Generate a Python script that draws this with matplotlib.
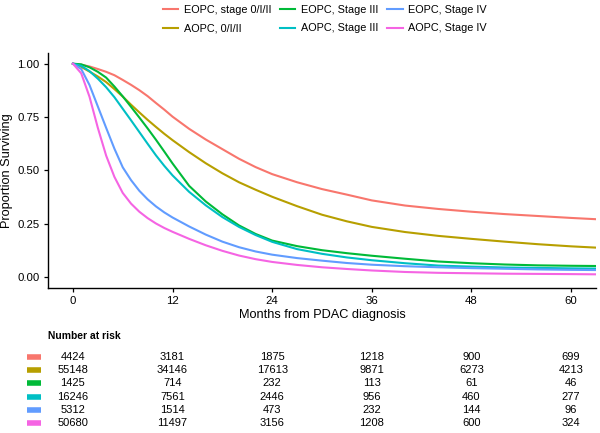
"""
Kaplan-Meier style survival curves for early-onset and average-onset
pancreatic cancer by stage, with a number-at-risk table underneath.
"""

import matplotlib
matplotlib.use("Agg")
import matplotlib.pyplot as plt

plt.rcParams["font.family"] = ["Liberation Sans", "DejaVu Sans"]

months = [0, 1, 2, 3, 4, 5, 6, 7, 8, 9, 10, 11, 12, 14, 16, 18, 20, 22, 24,
          27, 30, 33, 36, 40, 44, 48, 52, 56, 60, 63]

eopc_early = [1.0, 0.995, 0.987, 0.975, 0.962, 0.946, 0.924, 0.901, 0.876,
              0.848, 0.816, 0.785, 0.752, 0.695, 0.645, 0.600, 0.555, 0.516,
              0.483, 0.445, 0.413, 0.387, 0.360, 0.336, 0.320, 0.307, 0.296,
              0.287, 0.278, 0.272]
aopc_early = [1.0, 0.985, 0.963, 0.940, 0.914, 0.881, 0.846, 0.808, 0.772,
              0.737, 0.704, 0.672, 0.642, 0.586, 0.534, 0.487, 0.445, 0.410,
              0.377, 0.333, 0.293, 0.262, 0.236, 0.212, 0.194, 0.180, 0.167,
              0.155, 0.145, 0.139]
eopc_iii = [1.0, 0.997, 0.983, 0.962, 0.935, 0.893, 0.847, 0.798, 0.748,
            0.697, 0.644, 0.589, 0.533, 0.428, 0.355, 0.295, 0.243, 0.203,
            0.172, 0.146, 0.127, 0.113, 0.101, 0.087, 0.074, 0.066, 0.060,
            0.056, 0.054, 0.053]
aopc_iii = [1.0, 0.990, 0.965, 0.930, 0.890, 0.843, 0.789, 0.735, 0.680,
            0.625, 0.571, 0.522, 0.477, 0.400, 0.337, 0.282, 0.236, 0.198,
            0.166, 0.132, 0.110, 0.093, 0.080, 0.066, 0.055, 0.050, 0.046,
            0.044, 0.042, 0.041]
eopc_iv = [1.0, 0.975, 0.900, 0.800, 0.700, 0.602, 0.515, 0.455, 0.405,
           0.365, 0.332, 0.304, 0.280, 0.238, 0.200, 0.167, 0.141, 0.121,
           0.106, 0.090, 0.078, 0.067, 0.059, 0.052, 0.047, 0.043, 0.040,
           0.037, 0.035, 0.034]
aopc_iv = [1.0, 0.955, 0.845, 0.700, 0.570, 0.470, 0.395, 0.345, 0.307,
           0.277, 0.252, 0.231, 0.213, 0.180, 0.150, 0.124, 0.102, 0.085,
           0.072, 0.058, 0.047, 0.039, 0.032, 0.025, 0.021, 0.019, 0.017,
           0.016, 0.015, 0.014]

labels = ["EOPC, stage 0/I/II", "AOPC, 0/I/II", "EOPC, Stage III",
          "AOPC, Stage III", "EOPC, Stage IV", "AOPC, Stage IV"]
colors = ["#F8766D", "#B79F00", "#00BA38", "#00BFC4", "#619CFF", "#F564E3"]
curves = [eopc_early, aopc_early, eopc_iii, aopc_iii, eopc_iv, aopc_iv]

# number at risk table
risk_months = [0, 12, 24, 36, 48, 60]
at_risk = [
    [4424, 3181, 1875, 1218, 900, 699],
    [55148, 34146, 17613, 9871, 6273, 4213],
    [1425, 714, 232, 113, 61, 46],
    [16246, 7561, 2446, 956, 460, 277],
    [5312, 1514, 473, 232, 144, 96],
    [50680, 11497, 3156, 1208, 600, 324],
]

W, H = 600, 433
fig = plt.figure(figsize=(W / 100, H / 100), dpi=100)

ax = fig.add_axes([48 / W, 1 - 288 / H, 548 / W, 235 / H])
for y, color, label in zip(curves, colors, labels):
    ax.plot(months, y, color=color, lw=1.5, label=label)

ax.set_xlim(-3, 63)
ax.set_ylim(-0.05, 1.05)
ax.set_xticks(risk_months)
ax.set_yticks([0, 0.25, 0.5, 0.75, 1.0])
ax.set_yticklabels(["0.00", "0.25", "0.50", "0.75", "1.00"])
ax.tick_params(labelsize=8.2, colors="black", length=3, width=0.9, pad=3)
for side in ("top", "right"):
    ax.spines[side].set_visible(False)
for side in ("left", "bottom"):
    ax.spines[side].set_linewidth(1.0)
ax.set_xlabel("Months from PDAC diagnosis", fontsize=9.2, labelpad=2)
ax.set_ylabel("Proportion Surviving", fontsize=9.2, labelpad=3)

fig.legend(loc="upper center", bbox_to_anchor=(325 / W, 0.988), ncol=3,
           frameon=False, fontsize=7.8, handlelength=1.4, handletextpad=0.55,
           columnspacing=0.8, labelspacing=0.75, borderpad=0, borderaxespad=0)

# risk table, sharing the month scale of the main plot
rt = fig.add_axes([48 / W, 0, 548 / W, 103 / H])
rt.set_xlim(ax.get_xlim())
rt.set_ylim(5.76, -2.045)
rt.axis("off")
rt.text(-3, -1.59, "Number at risk", fontsize=7.4, fontweight="bold",
        ha="left", va="center")
for i, (row, color) in enumerate(zip(at_risk, colors)):
    rt.plot([-5.5, -3.9], [i, i], color=color, lw=4, solid_capstyle="butt",
            clip_on=False)
    for m, n in zip(risk_months, row):
        rt.text(m, i, str(n), fontsize=8, ha="center", va="center")

fig.savefig("out.png", dpi=100)
